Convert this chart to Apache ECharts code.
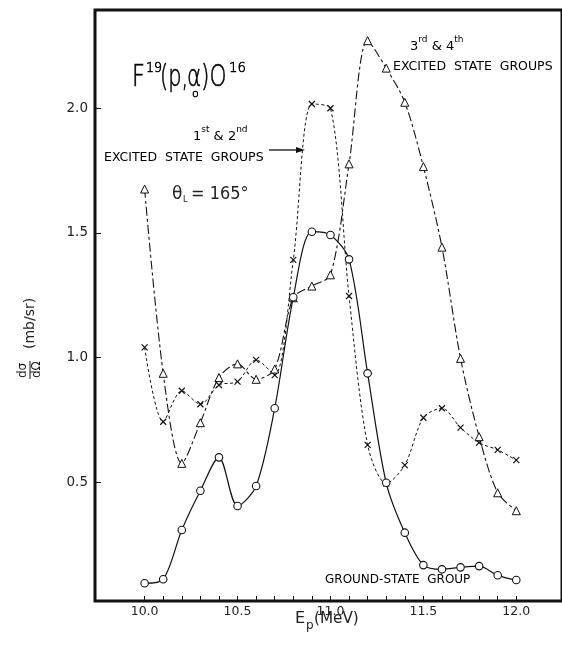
<!DOCTYPE html>
<html>
<head>
<meta charset="utf-8">
<script src="https://cdn.jsdelivr.net/npm/echarts@6/dist/echarts.min.js"></script>
<style>
html,body{margin:0;padding:0;background:#fff;}
#c{width:562px;height:650px;}
</style>
</head>
<body>
<div id="c"></div>
<script>
// Proton energy (MeV)
const energies = [10.0,10.1,10.2,10.3,10.4,10.5,10.6,10.7,10.8,10.9,11.0,11.1,11.2,11.3,11.4,11.5,11.6,11.7,11.8,11.9,12.0];
// Ground-state group (circles, solid)
const groundState = [0.095,0.111,0.309,0.466,0.600,0.405,0.485,0.797,1.242,1.505,1.492,1.394,0.937,0.498,0.298,0.168,0.151,0.159,0.164,0.127,0.108];
// 1st & 2nd excited state groups (crosses, short dashes)
const excited12 = [1.041,0.743,0.867,0.813,0.890,0.904,0.991,0.930,1.392,2.017,2.000,1.247,0.650,0.495,0.569,0.759,0.797,0.719,0.659,0.630,0.589];
// 3rd & 4th excited state groups (triangles, long dashes)
const excited34 = [1.676,0.937,0.576,0.739,0.920,0.975,0.913,0.954,1.240,1.287,1.332,1.777,2.271,2.161,2.024,1.766,1.443,0.997,0.683,0.458,0.386];
const xTickLabels = [10.0,10.5,11.0,11.5,12.0];
const yTickLabels = [0.5,1.0,1.5,2.0];
const xMinorTicks = [10.0,10.1,10.2,10.3,10.4,10.5,10.6,10.7,10.8,10.9,11.0,11.1,11.2,11.3,11.4,11.5,11.6,11.7,11.8,11.9,12.0];

const pair = (ys) => energies.map((x, i) => [x, ys[i]]);
const ink = '#111';
const FONT = 'DejaVu Sans';

const chart = echarts.init(document.getElementById('c'), null, {renderer: 'canvas'});

function t(x, y, text, size, extra, sx) {
  return {type: 'text', x: x, y: y, scaleX: sx || 1,
    style: Object.assign({text: text, fontSize: size, fontFamily: FONT, fill: '#111', verticalAlign: 'top'}, extra || {})};
}
const EL = {fontWeight: 200, fill: '#000', stroke: '#000', lineWidth: 0.6};

const option = {
  animation: false,
  backgroundColor: '#fff',
  grid: {left: 95, right: -3, top: 10, bottom: 49, show: true, borderColor: ink, borderWidth: 3, backgroundColor: 'transparent'},
  xAxis: {
    type: 'value', min: 9.733, max: 12.246,
    axisLine: {show: false},
    splitLine: {show: false},
    axisTick: {show: true, inside: true, length: 5, customValues: xMinorTicks, lineStyle: {color: ink, width: 1}},
    axisLabel: {customValues: xTickLabels, formatter: v => v.toFixed(1), color: '#222', fontFamily: FONT, fontSize: 12.5, margin: 4}
  },
  yAxis: {
    type: 'value', min: 0.024, max: 2.394,
    axisLine: {show: false},
    splitLine: {show: false},
    axisTick: {show: true, inside: true, length: 6, customValues: yTickLabels, lineStyle: {color: ink, width: 1}},
    axisLabel: {customValues: yTickLabels, formatter: v => v.toFixed(1), color: '#222', fontFamily: FONT, fontSize: 13.5, margin: 7}
  },
  series: [
    {
      type: 'line', name: 'ground', data: pair(groundState), smooth: 0.3,
      symbol: 'circle', symbolSize: 7.5,
      lineStyle: {color: ink, width: 1.2, type: 'solid'},
      itemStyle: {color: '#fff', borderColor: ink, borderWidth: 1.1}, z: 3
    },
    {
      type: 'line', name: 'exc12', data: pair(excited12), smooth: 0.3,
      symbol: 'path://M0,0L10,10M10,0L0,10', symbolSize: 6,
      lineStyle: {color: ink, width: 1, type: [3, 2.5]},
      itemStyle: {color: 'transparent', borderColor: ink, borderWidth: 1.2}, z: 2
    },
    {
      type: 'line', name: 'exc34', data: pair(excited34), smooth: 0.3,
      symbol: 'triangle', symbolSize: 8,
      lineStyle: {color: ink, width: 1.1, type: [9, 3, 3, 3]},
      itemStyle: {color: '#fff', borderColor: ink, borderWidth: 1}, z: 2
    }
  ],
  graphic: [
    // title F19(p,αo)O16
    t(132, 63, 'F', 30, EL, 0.75),
    t(146, 61, '19', 14, EL, 0.9),
    t(160, 63, '(p,', 30, EL, 0.7),
    t(187, 63, 'α', 30, EL, 0.72),
    t(192, 89, 'o', 11, EL),
    t(201, 63, ')O', 30, EL, 0.72),
    t(229, 61, '16', 14, EL, 0.95),
    // 1st & 2nd
    {
      type: 'text', left: 193, top: 125,
      style: {
        text: '{b|1}{s|st}{b| & 2}{s|nd}',
        rich: {
          b: {fontFamily: FONT, fontSize: 13, fill: '#000', lineHeight: 18, verticalAlign: 'bottom'},
          s: {fontFamily: FONT, fontSize: 9, fill: '#000', lineHeight: 18, verticalAlign: 'top'}
        }
      }
    },
    {type: 'text', left: 104, top: 151, style: {text: 'EXCITED  STATE  GROUPS', fontFamily: FONT, fontSize: 12.5, fill: '#000'}},
    {type: 'line', shape: {x1: 269, y1: 150, x2: 298, y2: 150}, style: {stroke: ink, lineWidth: 1.3}},
    {type: 'polygon', shape: {points: [[305, 150], [296, 147], [296, 153]]}, style: {fill: ink}},
    // theta_L = 165°
    t(172, 186, 'θ', 17, {fill: '#222'}),
    t(183, 196, 'L', 8, {fill: '#222'}),
    t(191, 186, '= 165°', 17, {fill: '#222'}, 0.95),
    // 3rd & 4th
    {
      type: 'text', left: 410, top: 35,
      style: {
        text: '{b|3}{s|rd}{b| & 4}{s|th}',
        rich: {
          b: {fontFamily: FONT, fontSize: 13, fill: '#000', lineHeight: 18, verticalAlign: 'bottom'},
          s: {fontFamily: FONT, fontSize: 9, fill: '#000', lineHeight: 18, verticalAlign: 'top'}
        }
      }
    },
    {type: 'text', left: 393, top: 60, style: {text: 'EXCITED  STATE  GROUPS', fontFamily: FONT, fontSize: 12.5, fill: '#000'}},
    {type: 'text', left: 325, top: 574, style: {text: 'GROUND-STATE  GROUP', fontFamily: FONT, fontSize: 12, fill: '#000'}},
    // x axis name
    t(295, 611, 'E', 16, {fill: '#222'}),
    t(306, 620, 'p', 12, {fill: '#222'}),
    t(314, 611, '(MeV)', 16, {fill: '#222'}, 0.95),
    // y axis name, rotated
    {
      type: 'group', x: 30, y: 338, rotation: Math.PI / 2,
      children: [
        {type: 'text', x: -40, y: -7, style: {text: 'dσ', fontFamily: FONT, fontSize: 12, fill: '#111', align: 'left', verticalAlign: 'middle'}},
        {type: 'line', shape: {x1: -41, y1: 0, x2: -23, y2: 0}, style: {stroke: ink, lineWidth: 1}},
        {type: 'text', x: -40, y: 7, style: {text: 'dΩ', fontFamily: FONT, fontSize: 12, fill: '#111', align: 'left', verticalAlign: 'middle'}},
        {type: 'text', x: -11, y: 0, style: {text: '(mb/sr)', fontFamily: FONT, fontSize: 14, fill: '#222', align: 'left', verticalAlign: 'middle'}}
      ]
    }
  ]
};
chart.setOption(option);
</script>
</body>
</html>
